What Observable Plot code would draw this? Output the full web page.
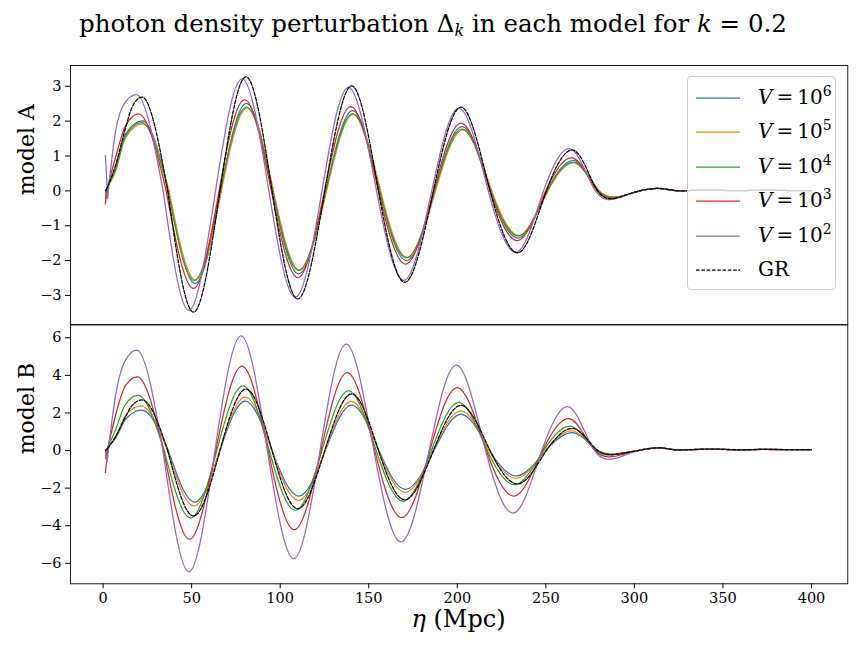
<!DOCTYPE html>
<html><head><meta charset="utf-8">
<script src="https://cdn.jsdelivr.net/npm/d3@7"></script>
<script src="https://cdn.jsdelivr.net/npm/@observablehq/plot@0.6"></script>
<style>
body{margin:0;background:#fff;}
#wrap{position:relative;width:864px;height:648px;font-family:"DejaVu Serif",serif;color:#000;overflow:hidden;}
#title{position:absolute;left:0;top:12px;width:866px;text-align:center;font-size:24.5px;line-height:24.5px;white-space:nowrap;}
#title sub{font-size:16px;line-height:0;vertical-align:-4px;}
.panel{position:absolute;left:0;}
#xlabel{position:absolute;left:70px;width:777px;top:607px;text-align:center;font-size:24px;line-height:24px;}
#legend{position:absolute;left:687px;top:76px;width:149px;height:214px;border:1px solid #cccccc;border-radius:4px;background:rgba(255,255,255,0.8);box-sizing:border-box;}
.lrow{position:absolute;left:0;width:100%;height:0;}
.lrow svg{position:absolute;left:7px;top:-3px;}
.ltext{position:absolute;left:70px;top:-13px;font-size:20px;line-height:24px;white-space:nowrap;}
.ltext sup{font-size:14px;line-height:0;vertical-align:8px;}
</style></head>
<body><div id="wrap">
<div id="title">photon density perturbation Δ<sub><i>k</i></sub> in each model for <i>k</i> = 0.2</div>
<div id="top" class="panel" style="top:55px"></div>
<div id="bot" class="panel" style="top:318px"></div>
<div id="xlabel"><i>η</i> (Mpc)</div>
<div id="legend"></div>
</div>
<script>
// ---- data ----
const seriesNames = ["V=10^6", "V=10^5", "V=10^4", "V=10^3", "V=10^2", "GR"];
const legendExponents = ["6", "5", "4", "3", "2", null];
const seriesColors = ["#1f77b4", "#ff7f0e", "#2ca02c", "#d62728", "#9467bd", "#000000"];
const xTicks = [0, 50, 100, 150, 200, 250, 300, 350, 400];
const yTicksA = [-3, -2, -1, 0, 1, 2, 3];
const yTicksB = [-6, -4, -2, 0, 2, 4, 6];
// index of the point where the initial transient joins the common rise
const joinIndex = [1, 1, 1, 1, 2, 1];

// GR (same curve in both panels)
const gr = [[1.3,0],[2.5,0.11],[7,0.73],[12.6,1.79],[16.4,2.4],[22,2.69],[36.5,0],[51.1,-3.48],[66,0],[80.8,3.27],[95.4,0],[110,-3.10],[125.2,0],[140.5,3.01],[155.5,0],[170.6,-2.62],[186.5,0],[202.4,2.40],[218.5,0],[234.7,-1.77],[250.3,0],[266,1.16],[279.3,0],[292.6,-0.16]];

// model A
const a6 = [[1.3,-0.07],[2.5,0.11],[7,0.63],[12.6,1.62],[22.3,2.01],[37,0],[52,-2.66],[66.5,0],[81,2.51],[95.8,0],[110.5,-2.38],[125.8,0],[141,2.30],[156.2,0],[171.5,-2.00],[187.2,0],[203,1.84],[219,0],[235,-1.35],[250.8,0],[266.5,0.86],[280,0],[293,-0.15]];
const a5 = [[1.3,-0.13],[2.5,0.11],[7,0.55],[12.6,1.52],[22.5,1.92],[37.2,0],[52.2,-2.55],[66.8,0],[81.5,2.38],[96.2,0],[111,-2.27],[126.2,0],[141.5,2.20],[156.7,0],[172,-1.91],[187.7,0],[203.5,1.75],[219.5,0],[235.5,-1.28],[251.2,0],[267,0.80],[280.3,0],[293.5,-0.14]];
const a4 = [[1.3,-0.23],[2.5,0.11],[7,0.6],[12.6,1.57],[21.8,1.96],[36.7,0],[51.5,-2.57],[66.2,0],[81,2.40],[95.8,0],[110.5,-2.28],[125.8,0],[141,2.21],[156.2,0],[171.5,-1.92],[187.2,0],[203,1.77],[219,0],[235,-1.29],[250.8,0],[266.5,0.81],[279.8,0],[293,-0.15]];
const a3 = [[1.3,-0.37],[2.5,0.11],[7,0.95],[12.6,1.86],[20,2.21],[35.6,0],[51,-2.80],[65.5,0],[80,2.62],[95,0],[110,-2.49],[125,0],[140,2.42],[155.5,0],[171,-2.10],[186.7,0],[202.5,1.94],[218.5,0],[234.5,-1.42],[250,0],[265.5,0.94],[279,0],[292.5,-0.17]];
const a2 = [[1.3,1.02],[2.6,-0.22],[3.2,0.15],[7,1.69],[12.6,2.55],[18.8,2.76],[33.9,0],[48.5,-3.43],[63.5,0],[78.6,3.21],[93.6,0],[108.6,-3.05],[123.6,0],[138.7,2.97],[154.4,0],[170,-2.57],[185.6,0],[201.3,2.37],[217.5,0],[233.6,-1.76],[248.7,0],[264.2,1.20],[278,0],[291.5,-0.19]];
const tailA = [[303,0],[312.5,0.07],[320,0.03],[327,0],[342,0.03],[357,0.005],[372,0.02],[387,0.01],[400,0.01]];

// model B
const b6 = [[1.3,-0.1],[2.8,0.19],[7,0.65],[12.6,1.65],[21.8,2.15],[36.8,0],[51.7,-2.74],[66,0],[80.4,2.63],[95.4,0],[110.5,-2.42],[125.5,0],[140.5,2.41],[155.8,0],[171,-2.06],[186.8,0],[202.5,1.93],[218.3,0],[234,-1.35],[250,0],[266,0.94],[279.5,0],[293,-0.15]];
const b5 = [[1.3,-0.2],[2.8,0.19],[7,0.72],[12.6,1.85],[21.5,2.38],[36.4,0],[51.3,-2.95],[65.8,0],[80.4,2.84],[95.3,0],[110.3,-2.65],[125.3,0],[140.3,2.62],[155.5,0],[170.8,-2.22],[186.5,0],[202.3,2.11],[218,0],[233.8,-1.47],[249.7,0],[265.5,1.04],[279,0],[292.5,-0.16]];
const b4 = [[1.3,-0.43],[2.8,0.19],[7,1.1],[12.6,2.45],[19.7,2.93],[34.5,0],[49.4,-3.59],[64.2,0],[79.1,3.44],[93.8,0],[108.6,-3.18],[123.6,0],[138.7,3.17],[154.2,0],[169.7,-2.70],[185.4,0],[201.1,2.56],[217,0],[233,-1.81],[248.7,0],[264.5,1.29],[278.3,0],[292,-0.14]];
const b3 = [[1.3,-1.17],[2.8,0.19],[7,1.85],[12.6,3.45],[19.3,3.92],[34.2,0],[48.8,-4.72],[63.6,0],[78.5,4.49],[93.2,0],[108,-4.21],[123,0],[138,4.15],[153.4,0],[168.8,-3.57],[184.5,0],[200.3,3.35],[216.4,0],[232.5,-2.42],[248.2,0],[263.8,1.68],[277.8,0],[291.8,-0.25]];
const b2 = [[1.3,-0.25],[2.3,-0.6],[3.3,0.3],[7,2.9],[12.6,4.8],[19,5.34],[33.8,0],[48.5,-6.45],[63.2,0],[78,6.10],[92.8,0],[107.7,-5.75],[122.5,0],[137.4,5.66],[152.9,0],[168.4,-4.86],[184.1,0],[199.8,4.54],[216,0],[232.1,-3.32],[247.7,0],[263.3,2.31],[277.5,0],[291.8,-0.35]];
const tailB = [[302,0],[312.5,0.14],[320,0.08],[327,0.03],[342,0.08],[357,0.04],[372,0.06],[387,0.05],[400,0.05]];

// ---- build ----
const panelA = [a6, a5, a4, a3, a2, gr].map(s => s.concat(tailA));
const panelB = [b6, b5, b4, b3, b2, gr].map(s => s.concat(tailB));

function lineMarks(panel) {
  const marks = [];
  panel.forEach((pts, i) => {
    const j = joinIndex[i];
    let z = j + 1;
    while (pts[z][1] !== 0) z++;          // first zero crossing after the first peak
    const opts = {
      x: d => d[0], y: d => d[1],
      stroke: seriesColors[i],
      strokeWidth: 1.25,
      strokeDasharray: seriesNames[i] === "GR" ? "3.7,1.6" : null
    };
    marks.push(Plot.line(pts.slice(0, j + 1), {...opts, curve: "linear"}));
    marks.push(Plot.line(pts.slice(j, z + 1), {...opts, curve: "monotone-x"}));
    marks.push(Plot.line(pts.slice(z), {...opts, curve: "natural"}));
  });
  return marks;
}

const commonStyle = {fontFamily: "DejaVu Serif", fontSize: "14.5px", background: "transparent", overflow: "visible", color: "black"};
const xDomain = [-18.4, 420.5];

const topPlot = Plot.plot({
  width: 864, height: 275,
  marginTop: 10, marginBottom: 5.7, marginLeft: 70, marginRight: 16.7,
  style: commonStyle,
  x: {domain: xDomain, axis: null},
  y: {domain: [-3.842, 3.597]},
  marks: [
    ...lineMarks(panelA),
    Plot.frame({stroke: "black", strokeWidth: 0.9}),
    Plot.axisY(yTicksA, {tickSize: 5, tickPadding: 4, label: null}),
    Plot.text(["model A"], {frameAnchor: "left", rotate: -90, dx: -44, fontSize: 22})
  ]
});
document.getElementById("top").appendChild(topPlot);

const botPlot = Plot.plot({
  width: 864, height: 330,
  marginTop: 6.3, marginBottom: 64.7, marginLeft: 70, marginRight: 16.7,
  style: commonStyle,
  x: {domain: xDomain},
  y: {domain: [-7.09, 6.69]},
  marks: [
    ...lineMarks(panelB),
    Plot.frame({stroke: "black", strokeWidth: 0.9}),
    Plot.axisY(yTicksB, {tickSize: 5, tickPadding: 4, label: null}),
    Plot.axisX(xTicks, {tickSize: 5, tickPadding: 4, label: null}),
    Plot.text(["model B"], {frameAnchor: "left", rotate: -90, dx: -44, fontSize: 22})
  ]
});
document.getElementById("bot").appendChild(botPlot);

// legend
const legend = d3.select("#legend");
seriesNames.forEach((name, i) => {
  const row = legend.append("div").attr("class", "lrow").style("top", (20.7 + i * 34.5) + "px");
  const sw = row.append("svg").attr("width", 46).attr("height", 6);
  sw.append("line").attr("x1", 1).attr("x2", 45).attr("y1", 3).attr("y2", 3)
    .attr("stroke", seriesColors[i]).attr("stroke-width", 1.25)
    .attr("stroke-dasharray", name === "GR" ? "3.7,1.6" : null);
  const t = row.append("div").attr("class", "ltext");
  if (legendExponents[i] === null) t.text(name);
  else t.html("<i>V</i>\u2009=\u200910<sup>" + legendExponents[i] + "</sup>");
});
</script>
</body></html>
